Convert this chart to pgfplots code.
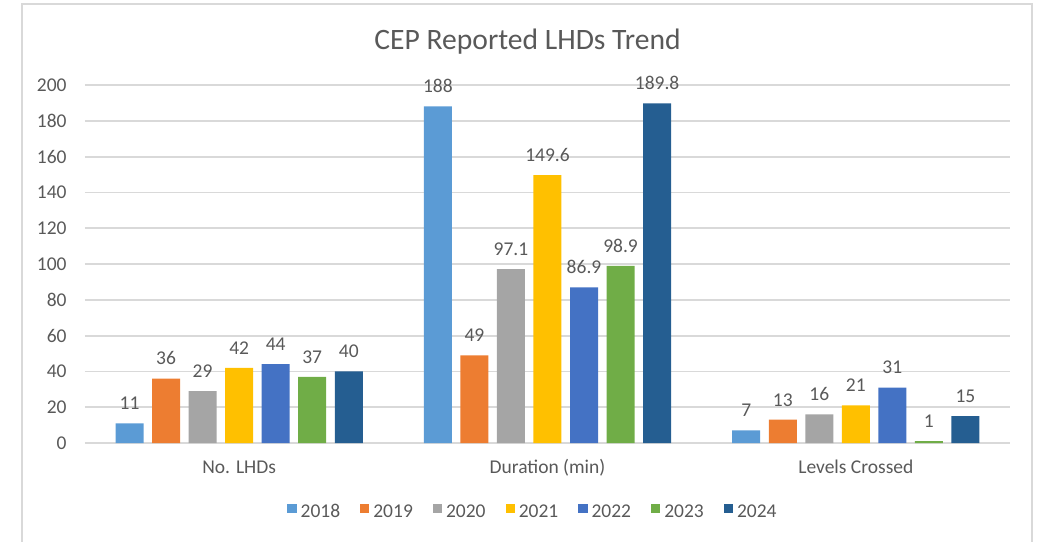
\documentclass[border=0pt]{standalone}
\usepackage{fontspec}
\setmainfont{Carlito}
\usepackage{pgfplots}
\pgfplotsset{compat=1.18}
\definecolor{c18}{HTML}{5B9BD5}
\definecolor{c19}{HTML}{ED7D31}
\definecolor{c20}{HTML}{A5A5A5}
\definecolor{c21}{HTML}{FFC000}
\definecolor{c22}{HTML}{4472C4}
\definecolor{c23}{HTML}{70AD47}
\definecolor{c24}{HTML}{255E91}
\definecolor{txt}{HTML}{595959}
\definecolor{gridc}{HTML}{D9D9D9}
\newcommand{\lbl}{\fontsize{9.75}{11}\selectfont}
\begin{document}
\begin{tikzpicture}
\useasboundingbox (-42.5pt,-49.5pt) rectangle (478pt,221.5pt);
\draw[gridc, line width=1pt] (-31.5pt,-49.5pt) -- (-31.5pt,219.5pt) -- (473.5pt,219.5pt) -- (473.5pt,-49.5pt);
\begin{axis}[
  at={(0pt,0pt)}, anchor=south west,
  scale only axis, width=462.5pt, height=179pt,
  xmin=-0.5, xmax=2.5, ymin=0, ymax=200,
  ytick={0,20,...,200},
  xtick={0,1,2}, xticklabels={No. LHDs, Duration (min), Levels Crossed},
  axis line style={draw=none},
  major tick length=0pt,
  ymajorgrids, grid style={gridc, line width=0.9pt},
  tick label style={font=\lbl, text=txt},
  /pgf/number format/assume math mode=true,
  yticklabel style={inner sep=0pt, xshift=-9pt},
  xticklabel style={anchor=base, inner sep=0pt, yshift=-15pt},
  ybar, bar width=0.0908,
  point meta=explicit symbolic,
  nodes near coords,
  nodes near coords style={font=\lbl, text=txt, anchor=base, yshift=6.8pt, inner sep=0pt},
  every axis plot/.append style={draw=none},
  legend columns=7,
  legend image code/.code={\fill[#1] (0pt,-0.5pt) rectangle (4.6pt,4.1pt);},
  legend style={at={(0.4854,-0.1941)}, anchor=center, draw=none, fill=none,
    font=\lbl, text=txt, inner sep=0pt,
    /tikz/every even column/.append style={column sep=8pt}},
  clip=false,
]
\addplot[fill=c18, bar shift=-0.3555] coordinates {(0,11) [11] (1,188) [188] (2,7) [7]};
\addplot[fill=c19, bar shift=-0.237] coordinates {(0,36) [36] (1,49) [49] (2,13) [13]};
\addplot[fill=c20, bar shift=-0.1185] coordinates {(0,29) [29] (1,97.1) [97.1] (2,16) [16]};
\addplot[fill=c21, bar shift=0] coordinates {(0,42) [42] (1,149.6) [149.6] (2,21) [21]};
\addplot[fill=c22, bar shift=0.1185] coordinates {(0,44) [44] (1,86.9) [86.9] (2,31) [31]};
\addplot[fill=c23, bar shift=0.237] coordinates {(0,37) [37] (1,98.9) [98.9] (2,1) [1]};
\addplot[fill=c24, bar shift=0.3555] coordinates {(0,40) [40] (1,189.8) [189.8] (2,15) [15]};
\legend{2018,2019,2020,2021,2022,2023,2024}
\end{axis}
\node[anchor=base, font=\fontsize{14.8}{17}\selectfont, text=txt] at (221.25pt,196.5pt) {CEP Reported LHDs Trend};
\end{tikzpicture}
\end{document}
